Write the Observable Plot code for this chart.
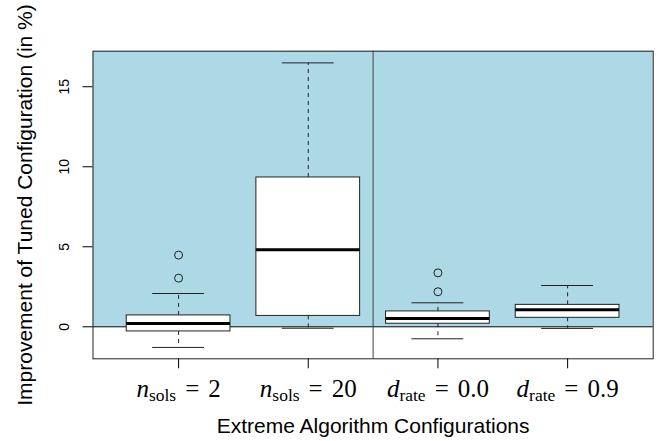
<!DOCTYPE html>
<html><head><meta charset="utf-8">
<script src="https://cdn.jsdelivr.net/npm/d3@7"></script>
<script src="https://cdn.jsdelivr.net/npm/@observablehq/plot@0.6"></script>
<style>body{margin:0;background:#fff} svg{display:block}</style>
</head><body><div id="chart"></div>
<script>
// Data
const positions = [1, 2, 3, 4];
const labelVar = ["n", "n", "d", "d"];
const labelSub = ["sols", "sols", "rate", "rate"];
const labelVal = ["2", "20", "0.0", "0.9"];
const q1 = [-0.29, 0.68, 0.19, 0.56];
const median = [0.21, 4.82, 0.52, 1.06];
const q3 = [0.71, 9.33, 0.96, 1.37];
const whiskerLow = [-1.29, -0.09, -0.75, -0.10];
const whiskerHigh = [2.08, 16.49, 1.50, 2.58];
const outlierGroup = [1, 1, 3, 3];
const outlierValue = [3.04, 4.48, 2.19, 3.37];
const yTicks = [0, 5, 10, 15];
const xTitle = "Extreme Algorithm Configurations";
const yTitle = "Improvement of Tuned Configuration (in %)";

const xDomain = [0.34, 4.66];
const yDomain = [-2.0, 17.22];
const separator = 2.5;
const boxHalf = 0.4, capHalf = 0.2;

const labelText = positions.map((d, i) => labelVar[i] + labelSub[i] + " = " + labelVal[i]);

const chart = Plot.plot({
  width: 661,
  height: 441,
  marginLeft: 92.5,
  marginRight: 8.3,
  marginTop: 50.7,
  marginBottom: 82.7,
  style: {fontFamily: "'Liberation Sans', Arial, sans-serif", background: "white", color: "black"},
  x: {domain: xDomain},
  y: {domain: yDomain},
  marks: [
    Plot.rect([0], {x1: () => xDomain[0], x2: () => xDomain[1], y1: () => 0, y2: () => yDomain[1], fill: "#add8e6"}),
    Plot.ruleY([0], {stroke: "black", strokeWidth: 1}),
    Plot.ruleX([separator], {stroke: "#444", strokeWidth: 1}),
    Plot.ruleX(positions, {x: d => d, y1: q3, y2: whiskerHigh, stroke: "#222", strokeDasharray: "4,4"}),
    Plot.ruleX(positions, {x: d => d, y1: q1, y2: whiskerLow, stroke: "#222", strokeDasharray: "4,4"}),
    Plot.ruleY(positions, {y: whiskerHigh, x1: d => d - capHalf, x2: d => d + capHalf, stroke: "#222"}),
    Plot.ruleY(positions, {y: whiskerLow, x1: d => d - capHalf, x2: d => d + capHalf, stroke: "#222"}),
    Plot.rect(positions, {x1: d => d - boxHalf, x2: d => d + boxHalf, y1: q1, y2: q3, fill: "white", stroke: "#222", strokeWidth: 1}),
    Plot.ruleY(positions, {y: median, x1: d => d - boxHalf, x2: d => d + boxHalf, stroke: "black", strokeWidth: 3}),
    Plot.dot(outlierValue, {x: outlierGroup, y: d => d, r: 4, stroke: "#222", strokeWidth: 1, fill: "none"}),
    Plot.frame({stroke: "#222"}),
    Plot.axisY(yTicks, {tickSize: 10, tickFormat: () => "", label: null}),
    Plot.axisX(positions, {tickSize: 10, tickFormat: () => "", label: null}),
    Plot.text(yTicks, {x: () => xDomain[0], y: d => d, text: d => String(d), rotate: -90, dx: -24.5, lineAnchor: "bottom", textAnchor: "middle", fontSize: 14}),
    Plot.text(positions, {x: d => d, y: () => yDomain[0], text: (d, i) => labelText[i], dy: 37.7, lineAnchor: "bottom", textAnchor: "middle", fontSize: 25}),
    Plot.text([xTitle], {frameAnchor: "bottom", dy: 74.2, lineAnchor: "bottom", textAnchor: "middle", fontSize: 21}),
    Plot.text([yTitle], {frameAnchor: "left", rotate: -90, dx: -60.8, lineAnchor: "bottom", textAnchor: "middle", fontSize: 21})
  ]
});

// Render x tick labels as math-style text (italic variable, roman subscript)
d3.select(chart).selectAll("text").each(function() {
  const i = labelText.indexOf(this.textContent);
  if (i < 0) return;
  const t = d3.select(this);
  t.text(null).style("font-family", "'Liberation Serif', 'DejaVu Serif', serif");
  t.append("tspan").style("font-style", "italic").text(labelVar[i]);
  t.append("tspan").attr("font-size", 17.5).attr("dy", 4.5).text(labelSub[i]);
  t.append("tspan").attr("dy", -4.5).attr("dx", 9).text("=");
  t.append("tspan").attr("dx", 9).text(labelVal[i]);
});

document.getElementById("chart").appendChild(chart);
</script>
</body></html>
